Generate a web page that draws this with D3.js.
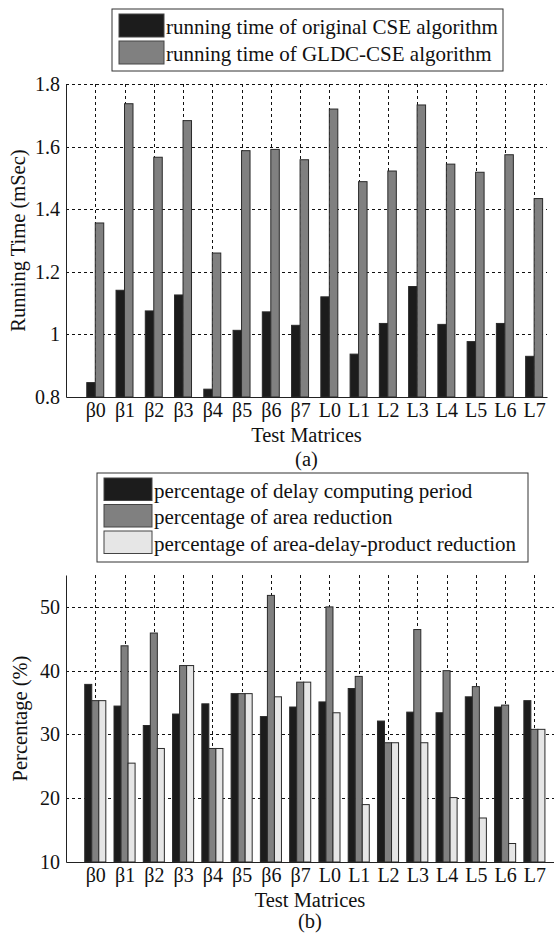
<!DOCTYPE html>
<html>
<head>
<meta charset="utf-8">
<script src="https://cdn.jsdelivr.net/npm/d3@7"></script>
<style>
  body { margin: 0; background: #fff; }
  svg { display: block; }
  svg text { font-family: "Liberation Serif", "Times New Roman", serif; }
</style>
</head>
<body>
<svg id="fig" width="554" height="933"></svg>
<script>
// data
const matrices = ['β0', 'β1', 'β2', 'β3', 'β4', 'β5', 'β6', 'β7', 'L0', 'L1', 'L2', 'L3', 'L4', 'L5', 'L6', 'L7'];

const timeOriginal = [0.846, 1.141, 1.075, 1.126, 0.825, 1.013, 1.072, 1.029, 1.12, 0.937, 1.035, 1.153, 1.032, 0.977, 1.035, 0.93];
const timeGLDC = [1.356, 1.737, 1.566, 1.683, 1.26, 1.587, 1.591, 1.558, 1.72, 1.488, 1.522, 1.733, 1.544, 1.518, 1.574, 1.434];
const timeLegend = ['running time of original CSE algorithm', 'running time of GLDC-CSE algorithm'];
const timeTicks = [0.8, 1, 1.2, 1.4, 1.6, 1.8];

const pctDelay = [37.85, 34.45, 31.4, 33.2, 34.8, 36.4, 32.8, 34.3, 35.1, 37.2, 32.1, 33.5, 33.4, 35.9, 34.3, 35.3];
const pctArea = [35.3, 43.9, 45.9, 40.8, 27.8, 36.4, 51.8, 38.2, 50, 39.1, 28.7, 46.45, 40, 37.5, 34.6, 30.8];
const pctADP = [35.3, 25.5, 27.8, 40.8, 27.8, 36.4, 35.9, 38.2, 33.4, 19, 28.7, 28.7, 20.1, 16.9, 12.9, 30.8];
const pctLegend = ['percentage of delay computing period', 'percentage of area reduction', 'percentage of area-delay-product reduction'];
const pctTicks = [10, 20, 30, 40, 50];

const fills = ['#1c1c1c', '#808080', '#e6e6e6'];
const edge = '#2a2a2a';

const svg = d3.select('#fig');

function panel({top, bottom, left, right, xMax, yDomain, yTicks, series, barW, yLabel, caption, labelY, legend}) {
  const g = svg.append('g');

  let x = d3.scaleLinear().domain([0, xMax]).range([left, right]);
  let y = d3.scaleLinear().domain(yDomain).range([bottom, top]);
  const step = x(1) - x(0);

  // 1. grid
  g.append('g')
    .selectAll('line')
    .data(matrices)
    .enter()
    .append('line')
    .attr('x1', (d, i) => Math.round(x(i + 1)) + 0.5)
    .attr('x2', (d, i) => Math.round(x(i + 1)) + 0.5)
    .attr('y1', top)
    .attr('y2', bottom)
    .attr('stroke', '#111')
    .attr('stroke-width', 1)
    .attr('stroke-dasharray', '3,3');

  g.append('g')
    .selectAll('line')
    .data(yTicks.slice(1))
    .enter()
    .append('line')
    .attr('x1', left)
    .attr('x2', right)
    .attr('y1', d => Math.round(y(d)) + 0.5)
    .attr('y2', d => Math.round(y(d)) + 0.5)
    .attr('stroke', '#111')
    .attr('stroke-width', 1)
    .attr('stroke-dasharray', '3,3');

  // 2. bars
  const n = series.length;
  const bw = barW * step;
  series.forEach((vals, k) => {
    g.append('g')
      .selectAll('rect')
      .data(vals)
      .enter()
      .append('rect')
      .attr('x', (d, i) => x(i + 1) - n * bw / 2 + k * bw)
      .attr('y', d => y(d))
      .attr('width', bw)
      .attr('height', d => y(yDomain[0]) - y(d))
      .attr('fill', fills[k])
      .attr('stroke', edge)
      .attr('stroke-width', 1);
  });

  // 3. axes
  const yAxis = g.append('g')
    .attr('transform', `translate(${left},0)`)
    .call(d3.axisLeft(y).tickValues(yTicks).tickFormat(d3.format('~g')).tickSize(0).tickPadding(6))
    .attr('font-family', null);
  yAxis.select('.domain').attr('stroke', '#222');
  yAxis.selectAll('text').attr('font-size', 20).attr('fill', '#111');

  const xAxis = g.append('g')
    .attr('transform', `translate(0,${bottom})`)
    .call(d3.axisBottom(x).tickValues(d3.range(1, matrices.length + 1)).tickFormat(d => matrices[d - 1]).tickSize(0).tickPadding(6))
    .attr('font-family', null);
  xAxis.select('.domain').attr('stroke', '#222');
  xAxis.selectAll('text').attr('font-size', 20).attr('fill', '#111');

  // 4. titles
  g.append('text')
    .attr('transform', `translate(${labelY},${(top + bottom) / 2}) rotate(-90)`)
    .attr('text-anchor', 'middle')
    .attr('font-size', 20.5)
    .attr('fill', '#111')
    .text(yLabel);

  g.append('text')
    .attr('x', (left + right) / 2)
    .attr('y', bottom + 45)
    .attr('text-anchor', 'middle')
    .attr('font-size', 20.5)
    .attr('fill', '#111')
    .text('Test Matrices');

  g.append('text')
    .attr('x', (left + right) / 2)
    .attr('y', Math.min(bottom + 69, 928))
    .attr('text-anchor', 'middle')
    .attr('font-size', 20.5)
    .attr('fill', '#111')
    .text(caption);

  // 5. legend
  const lg = g.append('g');
  lg.append('rect')
    .attr('x', legend.x)
    .attr('y', legend.y)
    .attr('width', legend.w)
    .attr('height', legend.h)
    .attr('fill', '#fff')
    .attr('stroke', '#333');
  legend.labels.forEach((t, k) => {
    const cy = legend.y + legend.pad + k * legend.row;
    lg.append('rect')
      .attr('x', legend.x + 7)
      .attr('y', cy)
      .attr('width', legend.sw)
      .attr('height', legend.row - 4)
      .attr('fill', fills[k])
      .attr('stroke', '#444');
    lg.append('text')
      .attr('x', legend.x + 7 + legend.sw + 2)
      .attr('y', cy + legend.row - 7)
      .attr('font-size', 21)
      .attr('fill', '#111')
      .text(t);
  });
}

panel({
  top: 84, bottom: 397, left: 66, right: 547, xMax: 16.44,
  yDomain: [0.8, 1.8], yTicks: timeTicks,
  series: [timeOriginal, timeGLDC], barW: 0.29,
  yLabel: 'Running Time (mSec)', caption: '(a)', labelY: 25,
  legend: {x: 112, y: 9, w: 391, h: 62, pad: 5, row: 27, sw: 45, labels: timeLegend}
});

panel({
  top: 575, bottom: 862, left: 66, right: 554, xMax: 16.67,
  yDomain: [10, 55], yTicks: pctTicks,
  series: [pctDelay, pctArea, pctADP], barW: 0.24,
  yLabel: 'Percentage (%)', caption: '(b)', labelY: 27,
  legend: {x: 97, y: 473, w: 431, h: 89, pad: 5, row: 26.5, sw: 48, labels: pctLegend}
});
</script>
</body>
</html>
